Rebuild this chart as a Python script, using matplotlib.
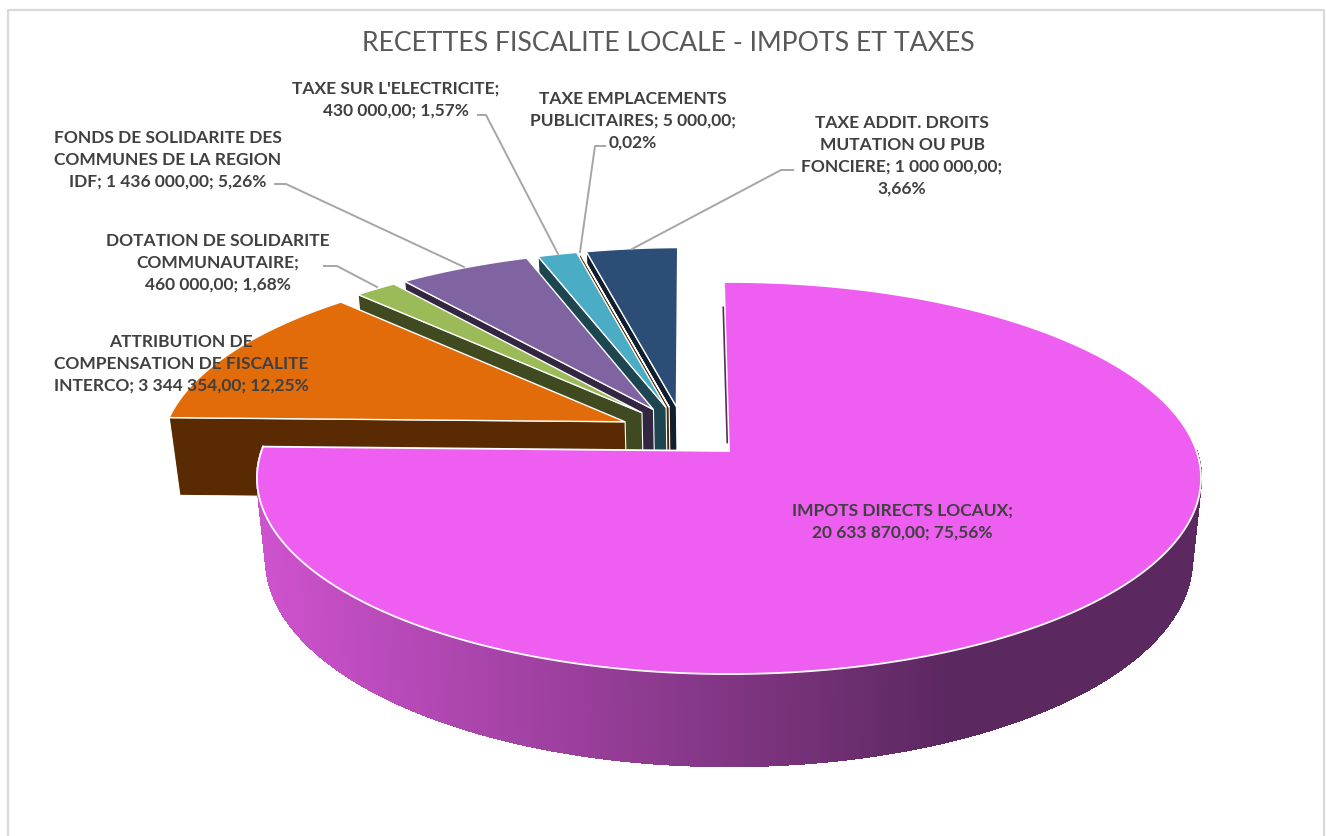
import numpy as np
import matplotlib
matplotlib.use('Agg')
import matplotlib.pyplot as plt
from matplotlib.collections import PolyCollection
from matplotlib.colors import to_rgb

plt.rcParams['font.family'] = ['Lato', 'DejaVu Sans']

title = "RECETTES FISCALITE LOCALE - IMPOTS ET TAXES"

# same order as the pie, clockwise from the top
categories = ["IMPOTS DIRECTS LOCAUX",
              "ATTRIBUTION DE COMPENSATION DE FISCALITE INTERCO",
              "DOTATION DE SOLIDARITE COMMUNAUTAIRE",
              "FONDS DE SOLIDARITE DES COMMUNES DE LA REGION IDF",
              "TAXE SUR L'ELECTRICITE",
              "TAXE EMPLACEMENTS PUBLICITAIRES",
              "TAXE ADDIT. DROITS MUTATION OU PUB FONCIERE"]
values = [20633870, 3344354, 460000, 1436000, 430000, 5000, 1000000]
label_lines = [["IMPOTS DIRECTS LOCAUX;", "20 633 870,00; 75,56%"],
               ["ATTRIBUTION DE", "COMPENSATION DE FISCALITE", "INTERCO; 3 344 354,00; 12,25%"],
               ["DOTATION DE SOLIDARITE", "COMMUNAUTAIRE;", "460 000,00; 1,68%"],
               ["FONDS DE SOLIDARITE DES", "COMMUNES DE LA REGION", "IDF; 1 436 000,00; 5,26%"],
               ["TAXE SUR L'ELECTRICITE;", "430 000,00; 1,57%"],
               ["TAXE EMPLACEMENTS", "PUBLICITAIRES; 5 000,00;", "0,02%"],
               ["TAXE ADDIT. DROITS", "MUTATION OU PUB", "FONCIERE; 1 000 000,00;", "3,66%"]]

top_colors = ['#EE5EF0', '#E26B0A', '#9BBB59', '#8064A2', '#4BACC6', '#C0703A', '#2C4D75']
wall_colors = ['#5C2860', '#5A2B02', '#3F4A21', '#322640', '#1D4651', '#5A2B02', '#111E2E']

# label placement: centre x, y of first line
label_pos = [(902, 511), (181, 342), (218, 241), (168, 138), (396, 89), (633, 99), (902, 123)]
leaders = [None, None,
           [(324, 267), (337, 267), (377, 288)],
           [(275, 185), (286, 185), (464, 268)],
           [(478, 116), (486, 116), (558, 255)],
           [(605, 147), (595, 147), (580, 253)],
           [(793, 171), (781, 171), (632, 250)]]

# perspective of the pie disc, top face and bottom face
cx = 729
persp = 0.1378
top_b, top_a, top_cy = 467.5, 192.3, 452
bot_b, bot_a, bot_cy = 458.6, 203.0, 531.6
explode = 0.14
start_angle = -0.7


def project(u, v, face):
    if face == 'top':
        b, a, cy = top_b, top_a, top_cy
    else:
        b, a, cy = bot_b, bot_a, bot_cy
    w = 1 - persp * v
    return cx + b * u / w, cy + a * v / w


def disc(theta):
    t = np.radians(theta)
    return np.sin(t), -np.cos(t)


edges = start_angle + np.concatenate([[0], np.cumsum(values)]) / sum(values) * 360
mids = (edges[:-1] + edges[1:]) / 2
pink_du, pink_dv = disc(mids[0])

fig = plt.figure(figsize=(13.26, 8.37), dpi=100)
ax = fig.add_axes([0, 0, 1, 1])
ax.set_xlim(0, 1326)
ax.set_ylim(837, 0)
ax.axis('off')

# chart frame, open at the bottom
ax.plot([8, 8, 1324, 1324], [837, 11, 11, 837], color='#D9D9D9', lw=1.6, zorder=1)


def slice_shift(i):
    if i == 0:
        return 0.0, 0.0
    du, dv = disc(mids[i])
    return explode * (du - pink_du), explode * (dv - pink_dv)


# small slices first, back to front, pink one last
for i in range(len(values) - 1, 0, -1):
    su, sv = slice_shift(i)
    th0, th1 = edges[i], edges[i + 1]
    eu, ev = disc(th0)
    x_a, y_a = project(su, sv, 'top')
    x_e, y_e = project(su + eu, sv + ev, 'top')
    x_ab, y_ab = project(su, sv, 'bot')
    x_eb, y_eb = project(su + eu, sv + ev, 'bot')
    ax.fill([x_a, x_e, x_eb, x_ab], [y_a, y_e, y_eb, y_ab], facecolor=wall_colors[i],
            edgecolor='white', lw=0.8, zorder=3)
    arc = np.linspace(th0, th1, 40)
    au, av = disc(arc)
    xs, ys = project(su + au, sv + av, 'top')
    ax.fill(np.r_[x_a, xs], np.r_[y_a, ys], facecolor=top_colors[i],
            edgecolor='white', lw=1.0, zorder=3)

# pink outer wall, shaded by x
wall_left = np.array(to_rgb('#CE52CE'))
wall_right = np.array(to_rgb(wall_colors[0]))
arc = np.linspace(90, edges[1], 500)
au, av = disc(arc)
xt, yt = project(au, av, 'top')
xb, yb = project(au, av, 'bot')
quads = []
shades = []
for j in range(len(arc) - 1):
    quads.append([(xt[j], yt[j]), (xt[j + 1], yt[j + 1]), (xb[j + 1], yb[j + 1]), (xb[j], yb[j])])
    f = np.clip(((xt[j] + xt[j + 1]) / 2 - 258) / (950 - 258), 0, 1)
    shades.append(wall_left + (wall_right - wall_left) * f)
ax.add_collection(PolyCollection(quads, facecolors=shades, edgecolors=shades, linewidths=1.0,
                                 antialiased=False, zorder=4))

# pink top face
x0, y0 = project(0, 0, 'top')
arc = np.linspace(edges[0], edges[1], 500)
au, av = disc(arc)
xs, ys = project(au, av, 'top')
ax.fill(np.r_[x0, xs], np.r_[y0, ys], facecolor=top_colors[0], edgecolor='white', lw=1.3, zorder=5)
# thin sliver of the radial wall next to the gap
ex, ey = xs[0], ys[0]
ax.plot([x0 - 1.5 + (ex - x0) * 0.05, x0 - 1.5 + (ex - x0) * 0.85],
        [y0 + (ey - y0) * 0.05, y0 + (ey - y0) * 0.85],
        color=wall_colors[0], lw=1.2, zorder=6)

for pts in leaders:
    if pts is None:
        continue
    ax.plot([p[0] for p in pts], [p[1] for p in pts], color='#A6A6A6', lw=1.4, zorder=7)

ax.text(668, 43, title, ha='center', va='center', fontsize=19.2, color='#595959', zorder=8)

for lines, (lx, ly) in zip(label_lines, label_pos):
    for n, line in enumerate(lines):
        ax.text(lx, ly + n * 21.8, line, ha='center', va='center', fontsize=12.5,
                fontweight='bold', color='#404040', zorder=8)

fig.savefig('out.png', dpi=100)
